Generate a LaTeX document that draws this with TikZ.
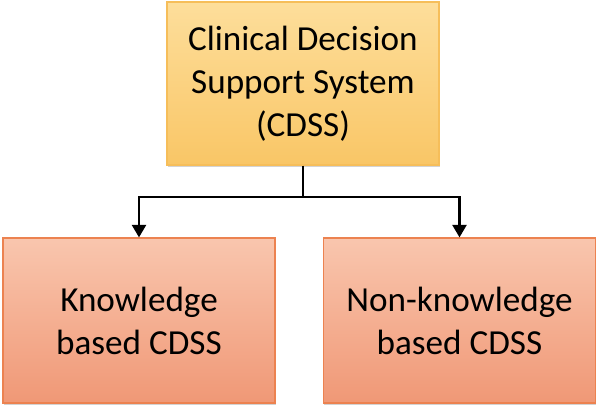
\documentclass[tikz,border=0pt]{standalone}
\usepackage{fontspec}
\setmainfont{Carlito}
\usetikzlibrary{arrows.meta,shadows}

\definecolor{cdssTop}{RGB}{253,222,155}
\definecolor{cdssBot}{RGB}{249,198,102}
\definecolor{cdssLine}{RGB}{246,190,90}
\definecolor{subTop}{RGB}{249,198,174}
\definecolor{subBot}{RGB}{240,152,118}
\definecolor{subLine}{RGB}{236,130,80}

\begin{document}
\begin{tikzpicture}[
  box/.style={draw, line width=0.8pt, minimum width=6.8cm, align=center,
    font=\fontsize{25}{30.5}\selectfont,
    drop shadow={shadow xshift=0.4pt, shadow yshift=-1.5pt, opacity=0.35}},
  mainbox/.style={box, minimum height=4.075cm, draw=cdssLine, top color=cdssTop, bottom color=cdssBot},
  subbox/.style={box, minimum height=4.125cm, draw=subLine, top color=subTop, bottom color=subBot},
  link/.style={line width=1.8pt, -{Triangle[width=10pt,length=9pt]}}
]
\useasboundingbox (0,0) rectangle (15,10.2);

\node[mainbox] (CDSS) at (7.575,8.1125) {Clinical Decision\\Support System\\(CDSS)};
\node[subbox] (KB) at (3.475,2.1875) {Knowledge\\based CDSS};
\node[subbox] (NKB) at (11.4875,2.1875) {Non-knowledge\\based CDSS};

\coordinate (J) at (CDSS.south |- 0,5.275);
\draw[line width=1.8pt] (CDSS.south) -- (J);
\draw[link] (J) -| (KB.north);
\draw[link] (J) -| (NKB.north);
\end{tikzpicture}
\end{document}
